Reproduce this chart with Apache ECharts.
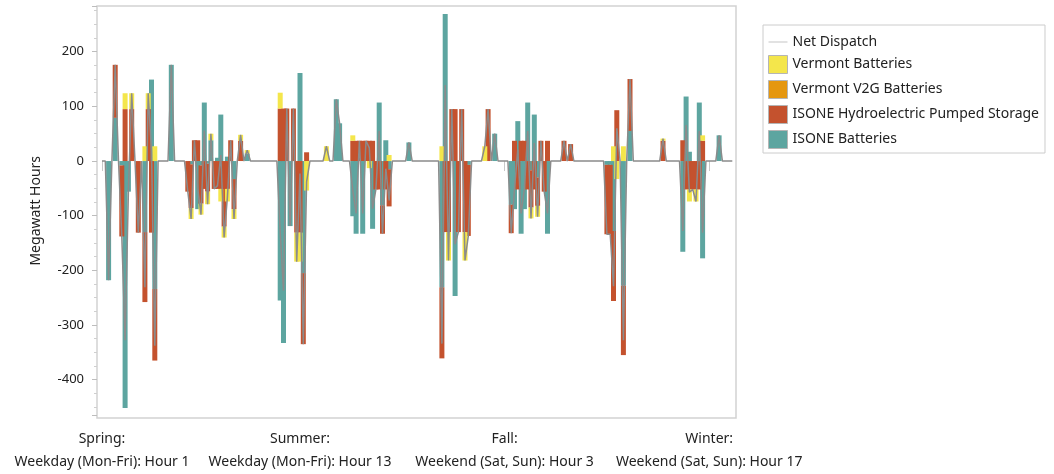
<!DOCTYPE html>
<html>
<head>
<meta charset="utf-8">
<script src="https://cdn.jsdelivr.net/npm/echarts@6/dist/echarts.min.js"></script>
<style>
html,body{margin:0;padding:0;background:#fff;}
#chart{width:1054px;height:474px;}
</style>
</head>
<body>
<div id="chart"></div>
<script>
// ---- categories ----
const seasons = ['Spring', 'Summer', 'Fall', 'Winter'];
const dayTypes = ['Weekday (Mon-Fri)', 'Weekend (Sat, Sun)'];
const hours = [1,2,3,4,5,6,7,8,9,10,11,12,13,14,15,16,17,18,19,20,21,22,23,24];
const labelledIndices = [0, 60, 122, 184];

// ---- series values (MWh), 8 blocks of 24 hours: Spring WD, Spring WE, Summer WD, Summer WE, Fall WD, Fall WE, Winter WD, Winter WE ----
const isoneBatteries = [
  0,0,-218,0,79,0,-8,-452,-56,0,0,0,0,-130,0,149,-234,0,0,0,0,176,0,0,
  0,0,0,-6,0,-88,-8,107,-5,38,0,6,85,0,8,0,-33,0,0,0,14,0,0,0,
  0,0,0,0,0,0,-255,-333,0,-119,0,0,161,-205,0,0,0,0,0,0,0,0,0,113,
  69,0,0,0,-101,-133,0,-133,0,0,-124,0,107,-81,38,-15,0,0,0,0,0,34,0,0,
  0,0,0,0,0,0,0,-231,269,0,0,-247,0,0,0,-7,0,0,0,0,0,0,0,50,
  0,0,0,0,-80,-88,73,-133,-88,107,-17,85,-30,0,0,-133,0,0,0,0,0,0,0,0,
  0,0,0,0,0,0,0,0,0,-7,-7,-128,0,0,-228,0,55,0,0,0,0,0,0,0,
  0,0,0,0,0,0,0,0,-166,118,17,0,0,107,-178,0,0,0,0,47,0,0,0,0
];
const isoneHydro = [
  0,0,0,0,97,0,-130,95,0,95,0,-131,0,-128,95,-131,-131,0,0,0,0,0,0,0,
  0,0,-56,-80,38,38,-70,-51,-51,0,-51,-51,-51,-120,-51,38,-55,0,37,0,0,0,0,0,
  0,0,0,0,0,0,96,96,96,0,96,-131,-131,-130,16,0,0,0,0,0,0,0,0,0,
  0,0,0,0,37,37,37,37,37,37,37,-52,-52,-52,-52,-68,0,0,0,0,0,0,0,0,
  0,0,0,0,0,0,0,-130,-130,-130,95,95,-130,95,-130,-130,0,0,0,0,0,95,0,0,
  0,0,0,0,-52,37,-52,37,37,-52,-68,-52,-52,37,-56,37,0,0,0,0,37,0,31,0,
  0,0,0,0,0,0,0,0,0,-127,-127,-128,93,0,-127,0,95,0,0,0,0,0,0,0,
  0,0,37,0,0,0,0,0,38,-52,-52,-52,-52,-52,37,0,0,0,0,0,0,0,0,0
];
const vermontV2G = [
  0,0,0,0,0,0,0,0,0,0,0,0,0,0,0,0,0,0,0,0,0,0,0,0,
  0,0,0,0,0,0,0,0,0,0,0,0,0,0,0,0,0,0,0,0,0,0,0,0,
  0,0,0,0,0,0,0,0,0,0,0,0,0,0,0,0,0,0,0,0,0,0,0,0,
  0,0,0,0,0,0,0,0,0,0,0,0,0,0,0,0,0,0,0,0,0,0,0,0,
  0,0,0,0,0,0,0,0,0,0,0,0,0,0,0,0,0,0,0,0,0,0,0,0,
  0,0,0,0,0,0,0,0,0,0,0,0,0,0,0,0,0,0,0,0,0,0,0,0,
  0,0,0,0,0,0,0,0,0,0,0,0,0,0,0,0,0,0,0,0,0,0,0,0,
  0,0,0,0,0,0,0,0,0,0,0,0,0,0,0,0,0,0,0,0,0,0,0,0
];
const vermontBatteries = [
  0,0,0,0,0,0,0,29,0,29,0,0,0,27,29,0,27,0,0,0,0,0,0,0,
  0,0,0,-20,0,0,-20,0,-23,12,0,0,-23,-20,-23,0,-18,0,11,0,6,0,0,0,
  0,0,0,0,0,0,29,0,0,0,0,-53,-53,0,-54,0,0,0,0,0,27,0,0,0,
  0,0,0,0,10,0,0,0,0,-13,0,0,0,0,0,11,0,0,0,0,0,0,0,0,
  0,0,0,0,0,0,0,27,0,-52,0,0,0,0,-52,0,0,0,0,0,27,0,0,0,
  0,0,0,0,0,0,0,0,0,0,-20,0,-20,0,0,0,0,0,0,0,0,0,0,0,
  0,0,0,0,0,0,0,0,0,0,0,27,-33,0,27,0,0,0,0,0,0,0,0,0,
  0,0,4,0,0,0,0,0,0,0,-22,0,-22,0,10,0,0,0,0,0,0,0,0,0
];
const netDispatch = [
  0,0,-218,0,176,0,-138,-328,-56,124,0,-131,0,-231,124,18,-338,0,0,0,0,176,0,0,
  0,0,-56,-106,38,-50,-98,56,-79,50,-51,-45,11,-140,-66,38,-106,0,48,0,20,0,0,0,
  0,0,0,0,0,0,-130,-237,96,-119,96,-184,-23,-335,-38,0,0,0,0,0,27,0,0,113,
  69,0,0,0,-54,-96,37,-96,37,24,-87,-52,55,-133,-14,-72,0,0,0,0,0,34,0,0,
  0,0,0,0,0,0,0,-334,139,-182,95,-152,-130,95,-182,-137,0,0,0,0,27,95,0,50,
  0,0,0,0,-132,-51,21,-96,-51,55,-105,33,-102,37,-56,-96,0,0,0,0,37,0,31,0,
  0,0,0,0,0,0,0,0,0,-134,-134,-229,60,0,-328,0,150,0,0,0,0,0,0,0,
  0,0,41,0,0,0,0,0,-128,66,-57,-52,-74,55,-131,0,0,0,0,47,0,0,0,0
];

// ---- build category names ----
const categories = [];
seasons.forEach(s => dayTypes.forEach(d => hours.forEach(h => categories.push(s + ':\n' + d + ': Hour ' + h))));

const FONT = '"Noto Sans", "DejaVu Sans", sans-serif';
const COLORS = {
  line: '#8b8b8b',
  vermont: '#f4e64b',
  v2g: '#e5970f',
  hydro: '#c4522e',
  isone: '#5da5a0'
};

const isLabelled = (idx) => labelledIndices.indexOf(idx) >= 0;

const chart = echarts.init(document.getElementById('chart'), null, {renderer: 'canvas'});

const barBase = {
  type: 'bar',
  stack: 'total',
  barWidth: 5,
  emphasis: {disabled: true},
  animation: false
};

const swatchStyle = {borderColor: '#b5b5b5', borderWidth: 1};

chart.setOption({
  animation: false,
  textStyle: {fontFamily: FONT},
  grid: {left: 100.35, right: 320.05, top: 6, bottom: 56, containLabel: false},
  graphic: [{
    type: 'rect',
    silent: true,
    z: -1,
    shape: {x: 97, y: 6, width: 639, height: 412},
    style: {fill: 'none', stroke: '#d2d2d2', lineWidth: 1.5}
  }],
  legend: {
    orient: 'vertical',
    left: 763,
    top: 25,
    padding: [10, 6, 4, 5],
    itemWidth: 19,
    itemHeight: 18,
    itemGap: 6,
    symbolKeepAspect: true,
    borderColor: '#cccccc',
    borderWidth: 1,
    textStyle: {fontFamily: FONT, fontSize: 14, color: '#222'},
    selectedMode: false,
    data: [
      {name: 'Net Dispatch', icon: 'path://M0,0 L24,0 L24,1.1 L0,1.1 Z', itemStyle: {color: '#bdbdbd', borderWidth: 0}},
      {name: 'Vermont Batteries', icon: 'rect', itemStyle: swatchStyle},
      {name: 'Vermont V2G Batteries', icon: 'rect', itemStyle: swatchStyle},
      {name: 'ISONE Hydroelectric Pumped Storage', icon: 'rect', itemStyle: swatchStyle},
      {name: 'ISONE Batteries', icon: 'rect', itemStyle: swatchStyle}
    ]
  },
  xAxis: {
    type: 'category',
    data: categories,
    boundaryGap: true,
    offset: 7,
    axisLine: {show: false},
    axisTick: {show: true, alignWithLabel: true, length: 10, interval: (i) => isLabelled(i), lineStyle: {color: '#c8c8c8'}},
    axisLabel: {
      interval: (i) => isLabelled(i),
      margin: 5.5,
      fontFamily: FONT,
      fontSize: 14,
      lineHeight: 23,
      color: '#222',
      align: 'center'
    },
    splitLine: {show: false}
  },
  yAxis: {
    type: 'value',
    min: -465.5,
    max: 283.6,
    splitNumber: 7,
    offset: 3.35,
    name: 'Megawatt Hours',
    nameLocation: 'middle',
    nameGap: 54,
    nameTextStyle: {fontFamily: FONT, fontSize: 14, color: '#222'},
    axisLine: {show: false},
    axisTick: {show: true, length: 5, lineStyle: {color: '#bdbdbd'}},
    minorTick: {show: true, splitNumber: 4, length: 3, lineStyle: {color: '#cfcfcf'}},
    axisLabel: {
      margin: 13,
      fontFamily: FONT,
      fontSize: 13,
      color: '#222',
      formatter: (v) => (Math.abs(Math.round(v) - v) < 1e-6 && Math.round(v) % 100 === 0) ? String(Math.round(v)) : ''
    },
    splitLine: {show: false}
  },
  series: [
    Object.assign({}, barBase, {name: 'ISONE Batteries', data: isoneBatteries, itemStyle: {color: COLORS.isone}}),
    Object.assign({}, barBase, {name: 'ISONE Hydroelectric Pumped Storage', data: isoneHydro, itemStyle: {color: COLORS.hydro}}),
    Object.assign({}, barBase, {name: 'Vermont V2G Batteries', data: vermontV2G, itemStyle: {color: COLORS.v2g}}),
    Object.assign({}, barBase, {name: 'Vermont Batteries', data: vermontBatteries, itemStyle: {color: COLORS.vermont}}),
    {
      name: 'Net Dispatch',
      type: 'line',
      data: netDispatch,
      symbol: 'none',
      z: 5,
      lineStyle: {color: COLORS.line, width: 1.5},
      itemStyle: {color: COLORS.line},
      emphasis: {disabled: true},
      animation: false
    }
  ]
});
</script>
</body>
</html>
